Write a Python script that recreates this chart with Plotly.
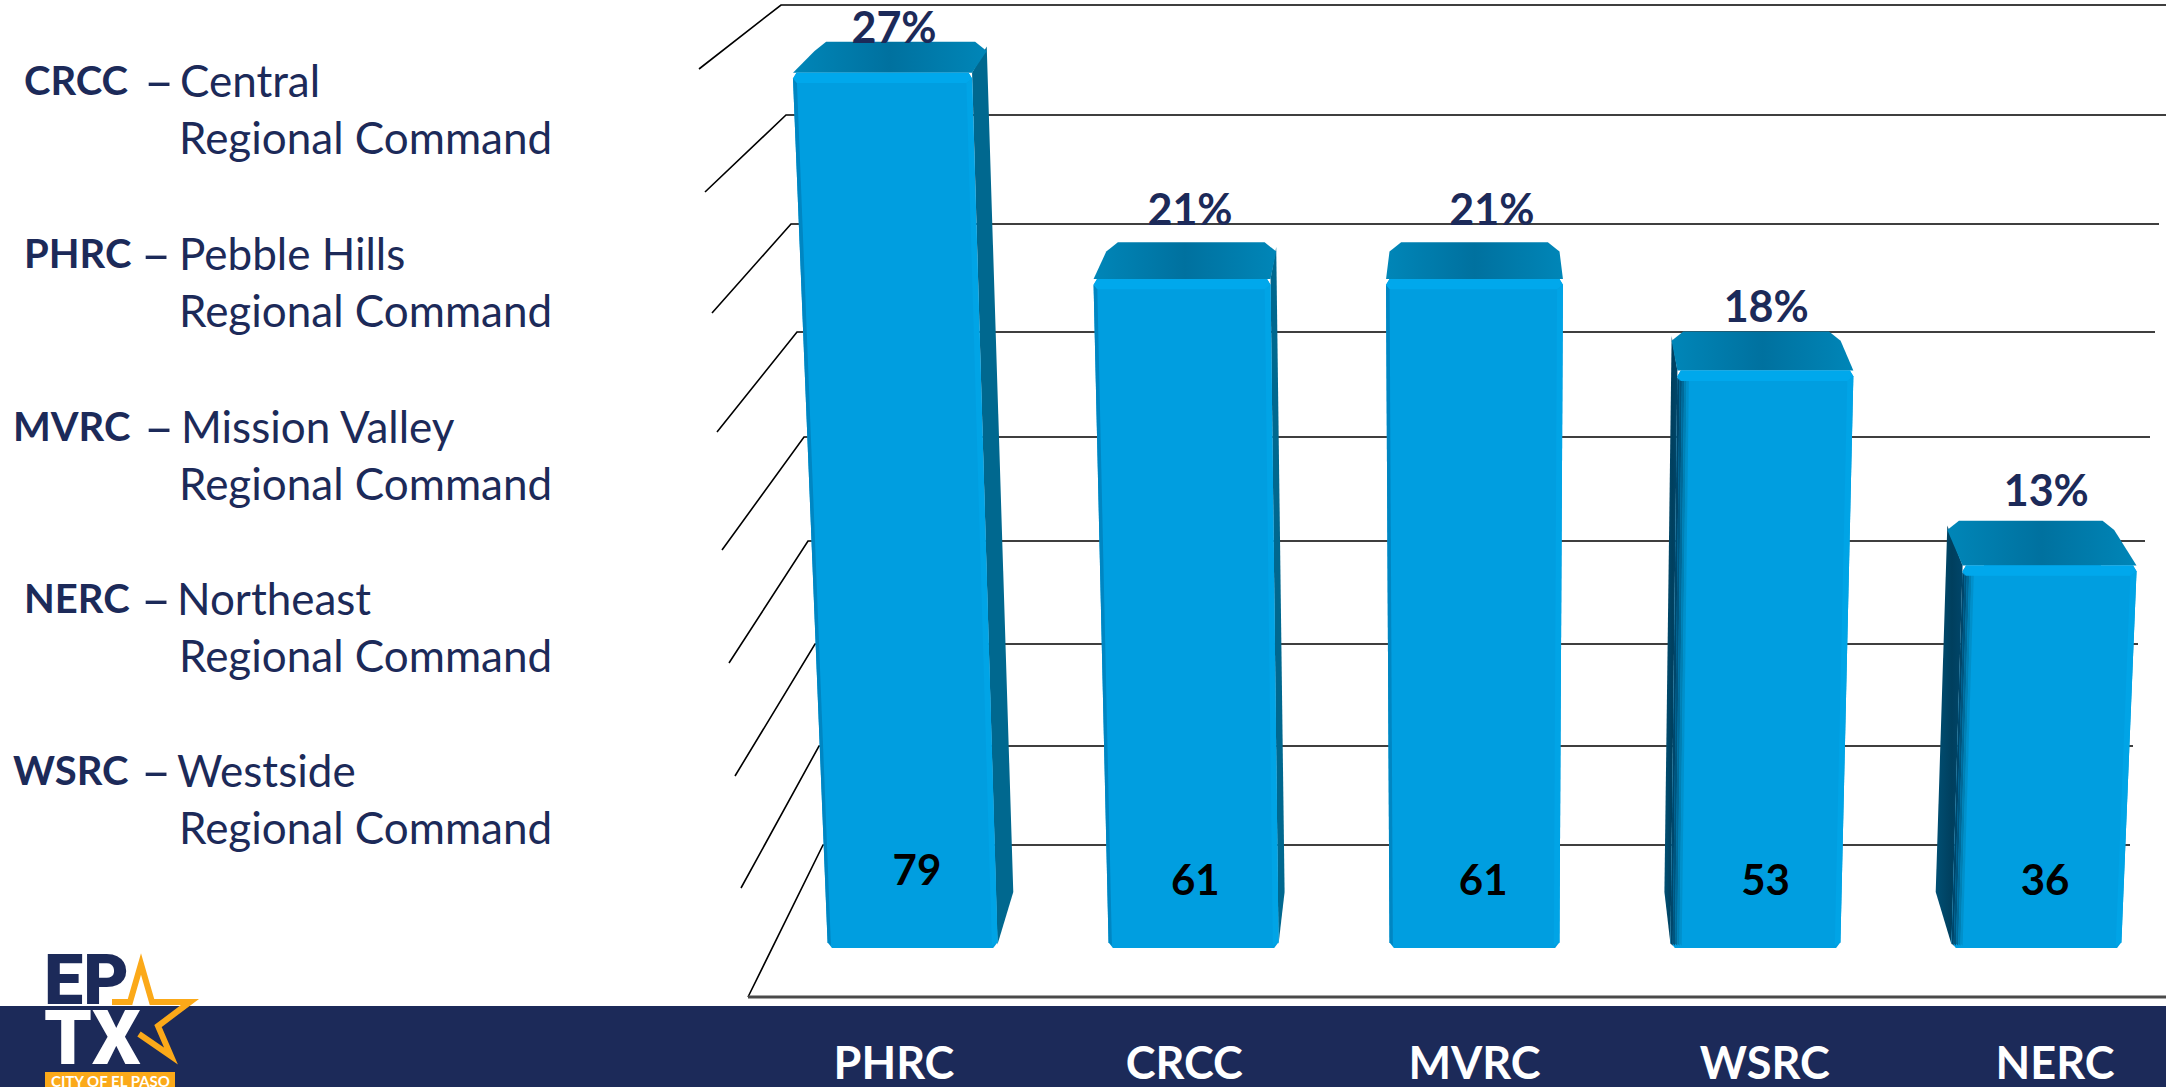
import plotly.graph_objects as go

categories = ["PHRC", "CRCC", "MVRC", "WSRC", "NERC"]
counts = [79, 61, 61, 53, 36]
percents = ["27%", "21%", "21%", "18%", "13%"]

legend_codes = ["CRCC", "PHRC", "MVRC", "NERC", "WSRC"]
legend_names = ["Central", "Pebble Hills", "Mission Valley", "Northeast", "Westside"]

W, H = 2166, 1087
FLOOR_PX = 948
NAVY = "#1C2A59"
FONT = "Lato"

X_ZERO, X_UNIT = 894, 290.25
Y_ZERO, Y_UNIT = 978, 11.46
BASE_V = (Y_ZERO - FLOOR_PX) / Y_UNIT
TOP_V = Y_ZERO / Y_UNIT
BACK_FLOOR_V = 7.5
SPREAD = 0.968
HALF_FRONT, HALF_BACK = 0.3025, 0.30


def px(x):
    return x / W


def py(y):
    return (FLOOR_PX - y) / FLOOR_PX


def front_x(i, off, v):
    return 2 + (i - 2 + off) * SPREAD * (1 + 0.0007 * (v - BASE_V))


def back_x(i, off, v):
    return 2 + (i - 2 + off) * SPREAD * (0.96 + 0.00075 * v)


def depth(v):
    return 4.9 - 0.028 * v


def poly(xs, ys, color, grad=None):
    kw = dict(x=xs + xs[:1], y=ys + ys[:1], mode="lines", fill="toself", line=dict(width=0),
              hoverinfo="skip", showlegend=False)
    if grad:
        kw["fillgradient"] = dict(type="horizontal", colorscale=grad)
        kw["fillcolor"] = "rgba(0,0,0,0)"
    else:
        kw["fillcolor"] = color
    return go.Scatter(**kw)


fig = go.Figure()
fig.add_trace(go.Bar(
    x=[front_x(i, 0, v / 2) for i, v in enumerate(counts)], y=counts, width=0.4,
    marker=dict(color="#009EE0", line=dict(width=0)), name="Count",
    hovertext=categories, showlegend=False))

shade_steps = ["#00466A", "#00557E", "#006A99", "#0080B4", "#0090CB"]

for i, v in enumerate(counts):
    d = depth(v)
    # side face
    side = HALF_BACK if i < 2 else -HALF_BACK
    fside = HALF_FRONT if i < 2 else -HALF_FRONT
    sx = [front_x(i, fside, v), back_x(i, side, v + d), back_x(i, side, BACK_FLOOR_V),
          front_x(i, fside, BASE_V + 0.3)]
    sy = [v, v + d - 0.4, BACK_FLOOR_V, BASE_V + 0.3]
    if i < 2:
        fig.add_trace(poly(sx, sy, "#00688F"))
    elif i > 2:
        fig.add_trace(poly(sx, sy, None, grad=[[0, "#004F73"], [0.6, "#003F5E"], [1, "#00466A"]]))
    # top cap
    fl, fr = front_x(i, -HALF_FRONT, v), front_x(i, HALF_FRONT, v)
    bl, br = back_x(i, -HALF_BACK, v + d), back_x(i, HALF_BACK, v + d)
    fig.add_trace(poly(
        [fl, bl, bl + 0.04, br - 0.04, br, fr],
        [v, v + d - 0.8, v + d, v + d, v + d - 0.8, v],
        None, grad=[[0, "#0086B8"], [0.5, "#00719F"], [1, "#0086B8"]]))
    # front face
    tl, tr = front_x(i, -HALF_FRONT, v), front_x(i, HALF_FRONT, v)
    dl, dr = front_x(i, -HALF_FRONT, BASE_V), front_x(i, HALF_FRONT, BASE_V)
    fig.add_trace(poly(
        [tl, tl + 0.012, tr - 0.012, tr, dr, dr - 0.015, dl + 0.015, dl],
        [v - 0.5, v, v, v - 0.5, BASE_V + 0.5, BASE_V, BASE_V, BASE_V + 0.5],
        "#009EE0"))
    # bevel strips
    edge = 0.02
    fig.add_trace(poly(
        [front_x(i, HALF_FRONT - edge, v - 0.9), tr, dr, front_x(i, HALF_FRONT - edge, BASE_V)],
        [v - 0.9, v - 0.5, BASE_V + 0.5, BASE_V + 0.2], "#00A4E6"))
    if i > 2:
        step = 0.008
        for s, col in enumerate(shade_steps):
            a, b = -HALF_FRONT + s * step, -HALF_FRONT + (s + 1) * step
            fig.add_trace(poly(
                [front_x(i, a, v - 0.6), front_x(i, b, v - 0.9), front_x(i, b, BASE_V), front_x(i, a, BASE_V + 0.4)],
                [v - 0.6, v - 0.9, BASE_V + 0.2, BASE_V + 0.4], col))
    else:
        fig.add_trace(poly(
            [tl, front_x(i, -HALF_FRONT + 0.012, v - 0.9), front_x(i, -HALF_FRONT + 0.012, BASE_V), dl],
            [v - 0.5, v - 0.9, BASE_V + 0.2, BASE_V + 0.5], "#0086C2"))
    fig.add_trace(poly(
        [tl, tl + 0.012, tr - 0.012, tr, front_x(i, HALF_FRONT - edge, v - 0.9), front_x(i, -HALF_FRONT + 0.012, v - 0.9)],
        [v - 0.5, v, v, v - 0.5, v - 0.9, v - 0.9], "#00A8EC"))

# labels
count_dx = [0.015, 0.006, 0.03, 0.035, 0.03]
count_y = [9.05, 8.2, 8.2, 8.2, 8.2]
fig.add_trace(go.Scatter(
    x=[front_x(i, 0, BASE_V) + count_dx[i] for i in range(5)], y=count_y,
    text=[str(c) for c in counts], mode="text", textposition="middle center",
    textfont=dict(family=FONT, size=42, color="black", weight=700),
    hoverinfo="skip", showlegend=False))

pct_dx = [0, 0.02, 0.06, 0.005, -0.03]
pct_up = [0.8, 2.45, 2.45, 1.75, 2.2]
fig.add_trace(go.Scatter(
    x=[i + pct_dx[i] for i in range(5)],
    y=[v + depth(v) + pct_up[i] for i, v in enumerate(counts)],
    text=percents, mode="text", textposition="middle center",
    textfont=dict(family=FONT, size=43, color=NAVY, weight=700),
    hoverinfo="skip", showlegend=False))

shapes = []
# perspective grid: left tip, wall corner, right end (page pixels)
grid_tip = [(699, 69), (705, 192), (712, 313), (717, 432), (722, 550), (729, 663), (735, 776), (741, 888), (748, 997)]
grid_corner = [(781, 5), (786, 115), (791, 224), (797, 332), (804, 437), (808, 541), (815, 644), (819, 746), (823, 845)]
grid_right = [2166, 2166, 2159, 2155, 2150, 2145, 2138, 2133, 2130]
for tip, corner, right in zip(grid_tip, grid_corner, grid_right):
    shapes.append(dict(type="path", xref="paper", yref="paper", layer="below",
                       path=f"M {px(tip[0])} {py(tip[1])} L {px(corner[0])} {py(corner[1])} L {px(right)} {py(corner[1])}",
                       line=dict(color="black", width=1.6)))
shapes.append(dict(type="line", xref="paper", yref="paper", layer="below",
                   x0=px(748), x1=1, y0=py(997), y1=py(997), line=dict(color="#4A4A4A", width=3)))
# footer band
shapes.append(dict(type="rect", xref="paper", yref="paper", layer="below",
                   x0=0, x1=1, y0=py(1006), y1=py(H + 2), fillcolor=NAVY, line=dict(width=0)))
# logo
shapes.append(dict(type="rect", xref="paper", yref="paper", layer="above",
                   x0=px(45), x1=px(175), y0=py(1072), y1=py(H + 2), fillcolor="#FBA919", line=dict(width=0)))
star = [(112, 1002), (130, 1002), (141, 964), (152, 1002), (190, 1002), (158, 1026), (171, 1056), (139, 1034)]
shapes.append(dict(type="path", xref="paper", yref="paper", layer="above",
                   path="M " + " L ".join(f"{px(a)} {py(b)}" for a, b in star),
                   line=dict(color="#FBA919", width=6)))

annotations = []


def note(text, x, y, size, color=NAVY, anchor="left", weight=400, family=FONT):
    annotations.append(dict(text=text, x=px(x), y=py(y), xref="paper", yref="paper",
                            xanchor=anchor, yanchor="middle", showarrow=False,
                            font=dict(family=family, size=size, color=color, weight=weight)))


code_x = [22, 22, 11, 22, 11]
dash_x = [142, 139, 142, 139, 139]
name_x = [178, 177, 179, 175, 175]
line1_y = [80, 253, 426, 598, 770]
for k in range(5):
    note(legend_codes[k], code_x[k], line1_y[k], 40, weight=700)
    note("–", dash_x[k], line1_y[k], 52)
    note(legend_names[k], name_x[k], line1_y[k], 44)
    note("Regional Command", 177, line1_y[k] + 57, 44)

note("EP", 42, 980, 70, weight=900, family="Roboto")
note("TX", 42, 1038, 76, color="white", weight=900, family="Roboto")
note("CITY OF EL PASO", 110, 1081, 15, color="white", anchor="center", weight=700)

fig.update_layout(
    width=W, height=H, autosize=False,
    margin=dict(l=0, r=0, t=0, b=H - FLOOR_PX, pad=0),
    paper_bgcolor="white", plot_bgcolor="rgba(0,0,0,0)",
    showlegend=False, shapes=shapes, annotations=annotations, bargap=0,
    xaxis=dict(range=[-X_ZERO / X_UNIT, (W - X_ZERO) / X_UNIT], domain=[0, 1],
               tickmode="array", tickvals=list(range(5)), ticktext=[f"<b>{c}</b>" for c in categories],
               tickfont=dict(family=FONT, size=45, color="white"),
               ticks="outside", ticklen=76, tickcolor="rgba(0,0,0,0)",
               showgrid=False, zeroline=False, showline=False, automargin=False, fixedrange=True),
    yaxis=dict(range=[BASE_V, TOP_V], domain=[0, 1], visible=False, fixedrange=True),
)
fig.write_html("out.html", config=dict(displayModeBar=False),
               post_script="document.body.style.margin='0';document.documentElement.style.overflow='hidden';")
